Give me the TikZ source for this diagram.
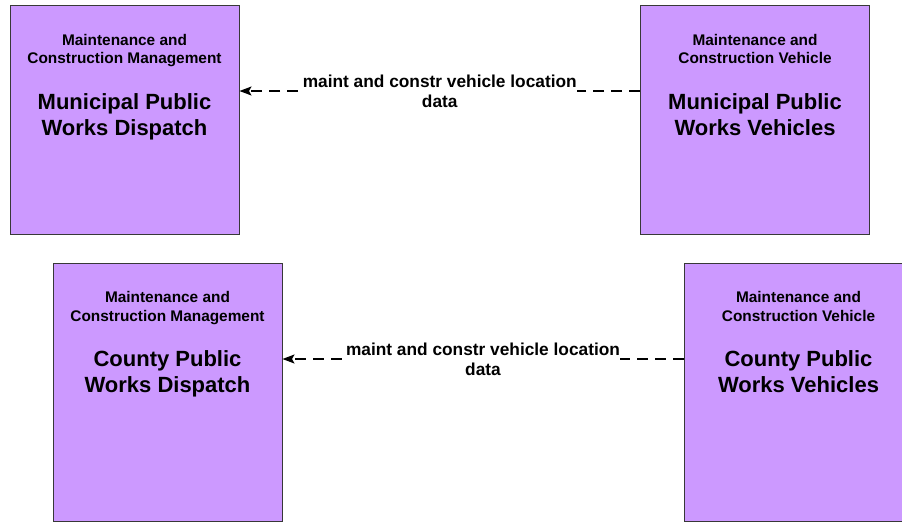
\documentclass[tikz,border=0pt]{standalone}
\usepackage{fontspec}
\setmainfont{Liberation Sans}
\usetikzlibrary{arrows.meta,positioning}
\definecolor{boxfill}{HTML}{CC99FF}
\definecolor{boxrule}{HTML}{383838}
\tikzset{
  % ---- blocks ---------------------------------------------------------
  mbox/.style={
    draw=boxrule, line width=1pt, fill=boxfill,
    minimum width=229pt, inner sep=0pt},
  mrole/.style={font=\fontsize{15.4}{18.5}\selectfont\bfseries, align=center, inner sep=0pt},
  mname/.style={font=\fontsize{22}{26}\selectfont\bfseries, align=center, inner sep=0pt},
  % ---- connections ----------------------------------------------------
  mflow/.style={
    -{Stealth[length=12pt,width=9pt,inset=2.5pt]}, draw=black, line width=1.3pt,
    dash pattern=on 11pt off 7pt},
  mlabel/.style={font=\fontsize{17.3}{20}\selectfont\bfseries, align=center,
    fill=white, inner sep=0.5pt, solid},
}
\begin{document}
\begin{tikzpicture}[x=1pt, y=-1pt]
\useasboundingbox (0,0) rectangle (902,523);

% ---- municipal row ---------------------------------------------------
\node[mbox, minimum height=229pt] (mpwd) at (124.5,119.5) {};
\node[mrole] (mpwdrole) at ([yshift=-46pt]mpwd.north)
  {Maintenance and\\Construction Management};
\node[mname] (mpwdname) at ([yshift=-112.5pt]mpwd.north)
  {Municipal Public\\Works Dispatch};

\node[mbox, minimum height=229pt] (mpwv) at (755,119.5) {};
\node[mrole] (mpwvrole) at ([yshift=-44.5pt]mpwv.north)
  {Maintenance and\\Construction Vehicle};
\node[mname] (mpwvname) at ([yshift=-110.5pt]mpwv.north)
  {Municipal Public\\Works Vehicles};

\draw[mflow] ([yshift=28.5pt]mpwv.west) --
  node[mlabel] (mflowlab) {maint and constr vehicle location\\data}
  ([yshift=28.5pt]mpwd.east);

% ---- county row ------------------------------------------------------
\node[mbox, minimum height=258pt] (cpwd) at (167.5,392) {};
\node[mrole] (cpwdrole) at ([yshift=-45.5pt]cpwd.north)
  {Maintenance and\\Construction Management};
\node[mname] (cpwdname) at ([yshift=-111pt]cpwd.north)
  {County Public\\Works Dispatch};

\node[mbox, minimum height=258pt] (cpwv) at (798.5,392) {};
\node[mrole] (cpwvrole) at ([yshift=-44pt]cpwv.north)
  {Maintenance and\\Construction Vehicle};
\node[mname] (cpwvname) at ([yshift=-109pt]cpwv.north)
  {County Public\\Works Vehicles};

\draw[mflow] ([yshift=33pt]cpwv.west) --
  node[mlabel] (cflowlab) {maint and constr vehicle location\\data}
  ([yshift=33pt]cpwd.east);

\end{tikzpicture}
\end{document}
